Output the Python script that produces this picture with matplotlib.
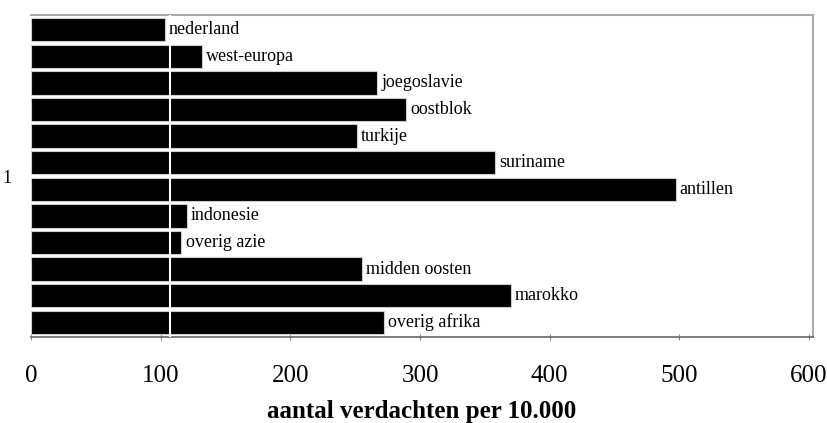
import matplotlib
matplotlib.use("Agg")
import matplotlib.pyplot as plt

# categories, top to bottom
regions = ["nederland", "west-europa", "joegoslavie", "oostblok", "turkije",
           "suriname", "antillen", "indonesie", "overig azie", "midden oosten",
           "marokko", "overig afrika"]
# suspects per 10,000 inhabitants
rates = [103, 132, 267, 289, 251, 358, 497, 120, 116, 255, 370, 272]
reference_line = 107
xticks = [0, 100, 200, 300, 400, 500, 600]

plt.rcParams["font.family"] = ["Liberation Serif", "DejaVu Serif"]

fig = plt.figure(figsize=(8.28, 4.23), dpi=100)
ax = fig.add_axes([31 / 828, 1 - 337 / 423, (813 - 31) / 828, (337 - 15) / 423])

pos = list(range(len(regions)))[::-1]
ax.barh(pos, rates, height=0.88, color="black", edgecolor="#cccccc", linewidth=0.8, zorder=2)
ax.axvline(reference_line, color="white", linewidth=1.5, zorder=3)

for p, v, name in zip(pos, rates, regions):
    ax.annotate(name, (v, p), xytext=(3, 0), textcoords="offset points",
                ha="left", va="center", fontsize=13, zorder=4,
                bbox=dict(boxstyle="square,pad=0.12", fc="white", ec="none"))

ax.set_xlim(0, 603)
ax.set_ylim(-0.55, len(regions) - 0.45)
ax.set_xticks(xticks)
ax.tick_params(axis="x", direction="inout", length=5, color="#888888",
               labelsize=18, pad=18)
ax.set_yticks([(len(regions) - 1) / 2])
ax.set_yticklabels(["1"], fontsize=13)
ax.tick_params(axis="y", length=0, pad=14)
ax.set_xlabel("aantal verdachten per 10.000", fontsize=18, fontweight="bold", labelpad=9)

for side in ["top", "right"]:
    ax.spines[side].set_color("#aaaaaa")
    ax.spines[side].set_linewidth(1.5)
ax.spines["left"].set_visible(False)
ax.spines["bottom"].set_color("#666666")
ax.spines["bottom"].set_linewidth(1.2)

fig.savefig("out.png", dpi=100)
plt.close(fig)
